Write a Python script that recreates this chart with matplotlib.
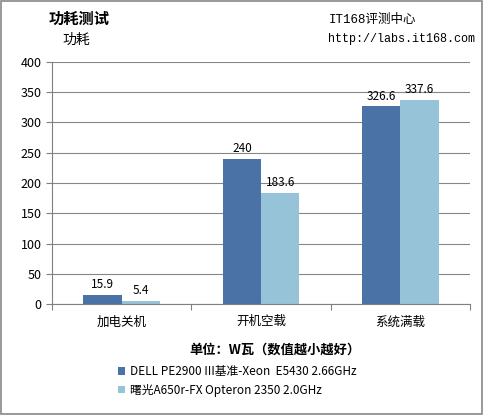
import matplotlib
matplotlib.use("Agg")
import matplotlib.pyplot as plt
from matplotlib.patches import Rectangle
import numpy as np

plt.rcParams['font.family'] = ['Noto Sans CJK SC', 'DejaVu Sans']

categories = ['加电关机', '开机空载', '系统满载']
dell = [15.9, 240, 326.6]
sugon = [5.4, 183.6, 337.6]
series_names = ['DELL PE2900 III基准-Xeon  E5430 2.66GHz', '曙光A650r-FX Opteron 2350 2.0GHz']
colors = ['#4a72a6', '#96c3d7']

fig = plt.figure(figsize=(4.83, 4.15), dpi=100)
fig.patch.set_facecolor('white')
fig.patches.append(Rectangle((0.003, 0.003), 0.994, 0.994, transform=fig.transFigure,
                             fill=False, edgecolor='#888888', linewidth=1.2))
ax = fig.add_axes([0.108, 0.267, 0.865, 0.584])
x = np.arange(len(categories))
w = 0.275
b1 = ax.bar(x - w/2, dell, w, color=colors[0], label=series_names[0])
b2 = ax.bar(x + w/2, sugon, w, color=colors[1], label=series_names[1])
for bars, vals in ((b1, dell), (b2, sugon)):
    for r, v in zip(bars, vals):
        ax.text(r.get_x() + r.get_width()/2, v + 6, f'{v:g}', ha='center', va='bottom', fontsize=8.5)
ax.set_xlim(-0.5, 2.5)
ax.set_ylim(0, 400)
ax.set_yticks(range(0, 401, 50))
ax.set_xticks([-0.5, 0.5, 1.5, 2.5], minor=False)
ax.set_xticklabels([])
ax.set_xticks(x, minor=True)
ax.set_xticklabels(categories, minor=True, fontsize=9)
ax.tick_params(axis='x', which='minor', length=0, pad=8)
ax.tick_params(axis='x', which='major', length=4, color='#808080')
ax.tick_params(axis='y', labelsize=9, length=4, color='#808080')
ax.yaxis.grid(True, color='#868686', linewidth=0.8)
ax.set_axisbelow(True)
for s in ['top', 'right']:
    ax.spines[s].set_visible(False)
for s in ['left', 'bottom']:
    ax.spines[s].set_color('#808080')

fig.text(0.1, 0.955, '功耗测试', fontsize=11, fontweight='bold', ha='left', va='center')
fig.text(0.13, 0.905, '功耗', fontsize=10, ha='left', va='center')
fig.text(0.68, 0.953, 'IT168评测中心', fontsize=9, ha='left', va='center', family=['Liberation Mono', 'Noto Sans CJK SC'])
fig.text(0.68, 0.906, 'http://labs.it168.com', fontsize=8.5, ha='left', va='center', family=['Liberation Mono'])
fig.text(0.57, 0.158, '单位：W瓦（数值越小越好）', fontsize=9.5, fontweight='bold', ha='center', va='center')
fig.legend(handles=[b1, b2], loc='upper left', bbox_to_anchor=(0.245, 0.12), frameon=False,
           fontsize=8.5, handlelength=0.6, handleheight=0.6, handletextpad=0.4, labelspacing=0.45,
           borderpad=0, borderaxespad=0)
fig.savefig('out.png', dpi=100)
